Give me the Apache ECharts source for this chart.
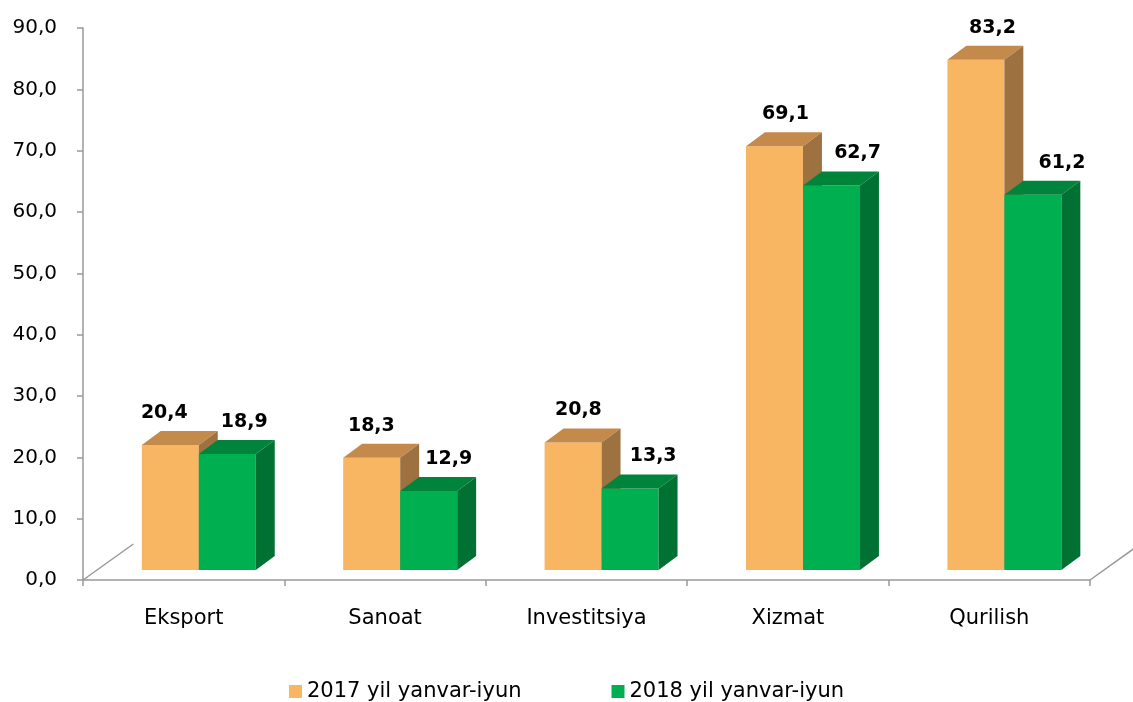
<!DOCTYPE html>
<html>
<head>
<meta charset="utf-8">
<script src="https://cdn.jsdelivr.net/npm/echarts@6/dist/echarts.min.js"></script>
<style>
html,body{margin:0;padding:0;background:#fff;}
#chart{width:1133px;height:702px;}
</style>
</head>
<body>
<div id="chart"></div>
<script>
const categories = ['Eksport', 'Sanoat', 'Investitsiya', 'Xizmat', 'Qurilish'];
const seriesNames = ['2017 yil yanvar-iyun', '2018 yil yanvar-iyun'];
const values2017 = [20.4, 18.3, 20.8, 69.1, 83.2];
const values2018 = [18.9, 12.9, 13.3, 62.7, 61.2];
const yMin = 0, yMax = 90, yStep = 10;

const FONT = '"DejaVu Sans", sans-serif';
const fmt = v => Number(v).toFixed(1).replace('.', ',');

function makeRender(offsetFrac, colors, labelShift) {
  return function (params, api) {
    const i = api.value(0), v = api.value(1);
    const top = api.coord([i, v]);
    const base = api.coord([i, 0]);
    const bw = api.size([1, 0])[0];
    const lift = 10;
    const w = 0.283 * bw;
    const x0 = top[0] + offsetFrac * bw;
    const yT = top[1] - lift, yB = base[1] - lift;
    const dx = 0.094 * bw, dy = 14;
    const cxFront = x0 + w / 2;
    return {
      type: 'group',
      children: [
        { type: 'rect', shape: { x: x0, y: yT, width: w, height: yB - yT }, style: { fill: colors[0] } },
        { type: 'polygon', shape: { points: [[x0, yT], [x0 + w, yT], [x0 + w + dx, yT - dy], [x0 + dx, yT - dy]] }, style: { fill: colors[1] } },
        { type: 'polygon', shape: { points: [[x0 + w, yT], [x0 + w + dx, yT - dy], [x0 + w + dx, yB - dy], [x0 + w, yB]] }, style: { fill: colors[2] } },
        { type: 'text', style: { text: fmt(v), x: cxFront + labelShift(cxFront), y: yT - 32, align: 'center', verticalAlign: 'middle', fontSize: 19, fontWeight: 'bold', fontFamily: FONT, fill: '#000' } }
      ]
    };
  };
}

function floorRender(params, api) {
  const p0 = api.coord([0, 0]);
  const bw = api.size([1, 0])[0];
  const xL = p0[0] - bw / 2;
  const xR = xL + bw * categories.length;
  const y = p0[1];
  const ddx = 0.25 * bw, ddy = 36;
  const st = { stroke: '#999', lineWidth: 1.5, fill: null };
  return {
    type: 'group',
    children: [
      { type: 'line', shape: { x1: xL, y1: y, x2: xL + ddx, y2: y - ddy }, style: st },
      { type: 'line', shape: { x1: xR, y1: y, x2: xR + ddx, y2: y - ddy }, style: st }
    ]
  };
}

const chart = echarts.init(document.getElementById('chart'), null, { renderer: 'canvas' });
chart.setOption({
  backgroundColor: '#fff',
  animation: false,
  grid: { left: 83, right: 43, top: 28, bottom: 122, containLabel: false },
  legend: {
    data: seriesNames,
    bottom: -5,
    left: 'center',
    icon: 'rect',
    itemWidth: 13,
    itemHeight: 13,
    itemGap: 90,
    textStyle: { fontFamily: FONT, fontSize: 21, color: '#000' }
  },
  xAxis: {
    type: 'category',
    data: categories,
    axisLine: { lineStyle: { color: '#999', width: 1.5 } },
    axisTick: { show: true, length: 6, lineStyle: { color: '#999', width: 1.5 } },
    axisLabel: { fontFamily: FONT, fontSize: 21, color: '#000', margin: 28 }
  },
  yAxis: {
    type: 'value',
    min: yMin, max: yMax, interval: yStep,
    axisLine: { show: true, lineStyle: { color: '#999', width: 1.5 } },
    axisTick: { show: true, length: 6, lineStyle: { color: '#999', width: 1.5 } },
    splitLine: { show: false },
    axisLabel: { fontFamily: FONT, fontSize: 20, color: '#000', margin: 26, formatter: fmt }
  },
  series: [
    {
      type: 'custom', name: 'floor', silent: true, clip: false, z: 1,
      data: [[0, 0]], encode: { x: 0, y: 1 },
      renderItem: floorRender
    },
    {
      type: 'custom', name: seriesNames[0], z: 2, clip: false,
      itemStyle: { color: '#F8B562' },
      data: values2017.map((v, i) => [i, v]), encode: { x: 0, y: 1 },
      renderItem: makeRender(-0.208, ['#F8B562', '#C48A4C', '#9E7140'], x => -6 + 0.028 * (x - 170))
    },
    {
      type: 'custom', name: seriesNames[1], z: 3, clip: false,
      itemStyle: { color: '#00B050' },
      data: values2018.map((v, i) => [i, v]), encode: { x: 0, y: 1 },
      renderItem: makeRender(0.075, ['#00B050', '#00843C', '#007132'], x => 17 + 0.015 * (x - 227))
    }
  ]
});
</script>
</body>
</html>
